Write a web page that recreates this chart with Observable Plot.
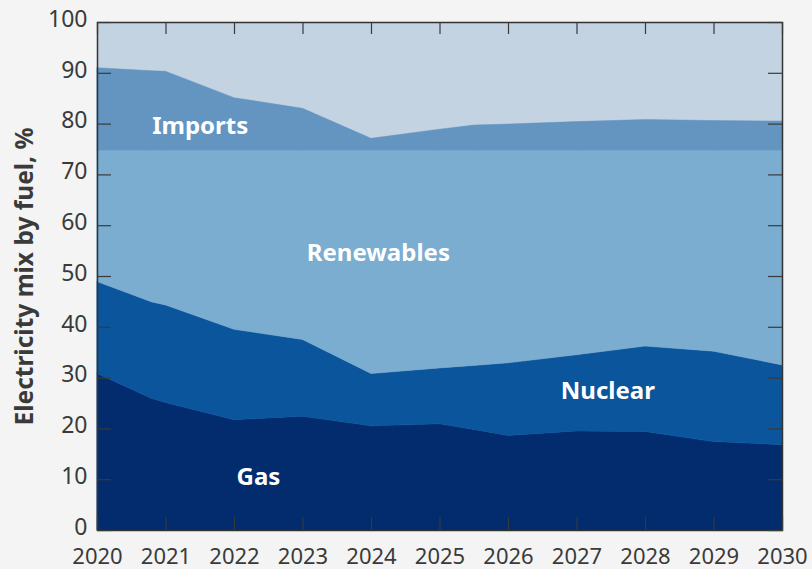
<!DOCTYPE html>
<html>
<head>
<meta charset="utf-8">
<script src="https://cdn.jsdelivr.net/npm/d3@7"></script>
<script src="https://cdn.jsdelivr.net/npm/@observablehq/plot@0.6"></script>
<style>
  html, body { margin: 0; padding: 0; background: #f3f4f3; }
  #chart { width: 812px; height: 569px; overflow: hidden; }
</style>
</head>
<body>
<div id="chart"></div>
<script>
// Data (shares of electricity mix, %)
const years      = [2020, 2020.8, 2021, 2022, 2023, 2024, 2025, 2025.5, 2026, 2027, 2028, 2029, 2030];
const gas        = [30.8, 25.9, 25.1, 21.7, 22.4, 20.5, 20.9, 19.8, 18.6, 19.5, 19.4, 17.4, 16.8];
const nuclear    = [18.1, 19.0, 19.2, 17.8, 15.1, 10.3, 11.0, 12.6, 14.3, 15.0, 16.8, 17.8, 15.7];
const renewables = [25.9, 29.9, 30.5, 35.3, 37.3, 44.0, 42.9, 42.4, 41.9, 40.3, 38.6, 39.6, 42.3];
const imports    = [16.2, 15.6, 15.5, 10.3, 8.2, 2.3, 4.1, 4.9, 5.1, 5.6, 6.0, 5.8, 5.7];

const fuels  = ["Gas", "Nuclear", "Renewables", "Imports"];
const xTicks = [2020, 2021, 2022, 2023, 2024, 2025, 2026, 2027, 2028, 2029, 2030];
const yTicks = [0, 10, 20, 30, 40, 50, 60, 70, 80, 90, 100];
const yTitle = "Electricity mix by fuel, %";

// Area label anchors (year, value)
const labelNames  = ["Imports", "Renewables", "Nuclear", "Gas"];
const labelYears  = [2021.5, 2024.1, 2027.45, 2022.35];
const labelValues = [79.6, 54.6, 27.4, 10.4];

const series = {Gas: gas, Nuclear: nuclear, Renewables: renewables, Imports: imports};
const table = fuels.flatMap(f => years.map((yr, i) => ({year: yr, fuel: f, share: series[f][i]})));
const labels = labelNames.map((n, i) => ({name: n, year: labelYears[i], value: labelValues[i]}));

const colors = ["#022c6e", "#0b559c", "#7badd0", "#6395c0"];
const topFill = "#c3d3e2";
const axisColor = "#3a3a3a";

const chart = Plot.plot({
  width: 812,
  height: 569,
  marginTop: 22,
  marginRight: 30,
  marginBottom: 39,
  marginLeft: 97,
  style: {fontFamily: "'Noto Sans', sans-serif", fontSize: "23px", background: "#f3f4f3", color: axisColor},
  x: {domain: [2020, 2030], label: null},
  y: {domain: [0, 100], label: null},
  color: {domain: fuels, range: colors},
  marks: [
    Plot.frame({fill: topFill, stroke: null}),
    Plot.areaY(table, {x: "year", y: "share", fill: "fuel", stroke: "fuel", strokeWidth: 0.5, order: fuels}),
    Plot.text(labels, {x: "year", y: "value", text: "name", fill: "white", fontWeight: "bold", fontSize: 24}),
    Plot.frame({stroke: "#333", strokeWidth: 1.5}),
    // inward ticks
    Plot.ruleX(xTicks, {x: d => d, y1: 0, y2: 0, insetTop: -13, stroke: axisColor, strokeWidth: 1.2}),
    Plot.ruleX(xTicks, {x: d => d, y1: 100, y2: 100, insetBottom: -12, stroke: axisColor, strokeWidth: 1.2}),
    Plot.ruleY(yTicks, {y: d => d, x1: 2020, x2: 2020, insetRight: -14, stroke: axisColor, strokeWidth: 1.2}),
    Plot.ruleY(yTicks, {y: d => d, x1: 2030, x2: 2030, insetLeft: -14, stroke: axisColor, strokeWidth: 1.2}),
    Plot.axisX({ticks: xTicks, tickSize: 0, tickPadding: 18, tickFormat: d => String(d), fontSize: 22, fill: axisColor}),
    Plot.axisY({ticks: yTicks, tickSize: 0, tickPadding: 10, dy: -3, tickFormat: d => String(d), fontSize: 23, fill: axisColor}),
    Plot.text([yTitle], {frameAnchor: "left", rotate: -90, dx: -72, text: d => d, textAnchor: "middle", fontWeight: "bold", fontSize: 24.5, fill: axisColor})
  ]
});
document.getElementById("chart").appendChild(chart);
</script>
</body>
</html>
